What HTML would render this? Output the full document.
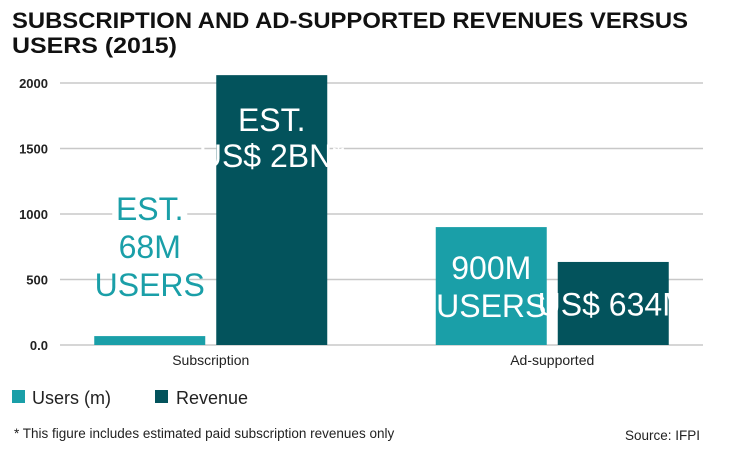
<!DOCTYPE html>
<html><head><meta charset="utf-8">
<style>
html,body{margin:0;padding:0;background:#fff;}
svg{display:block;font-family:"Liberation Sans",sans-serif;}
.cond{font-family:"Liberation Sans Narrow","Liberation Sans",sans-serif;}
</style></head>
<body>
<svg id="chart" width="740" height="457" viewBox="0 0 740 457">
  <text x="12" y="28" font-size="22" font-weight="bold" fill="#111" textLength="676" lengthAdjust="spacingAndGlyphs">SUBSCRIPTION AND AD-SUPPORTED REVENUES VERSUS</text>
  <text x="12" y="53" font-size="22" font-weight="bold" fill="#111" textLength="165" lengthAdjust="spacingAndGlyphs">USERS (2015)</text>
  <g id="grid"></g>
  <g id="bars"></g>
  <g id="labels"></g>
  <g>
    <rect x="12" y="390" width="13" height="13" fill="#1a9fa8"/>
    <text x="32" y="404" font-size="18" fill="#222">Users (m)</text>
    <rect x="155" y="390" width="13" height="13" fill="#03535c"/>
    <text x="176" y="404" font-size="18" fill="#222">Revenue</text>
  </g>
  <text x="14" y="438" font-size="13.5" fill="#222">* This figure includes estimated paid subscription revenues only</text>
  <text x="700" y="440" font-size="13.5" fill="#222" text-anchor="end">Source: IFPI</text>
</svg>
<script>
const categories = ["Subscription", "Ad-supported"];
const usersValues = [68, 900];
const revenueValues = [2060, 634];
const yTicks = [0, 500, 1000, 1500, 2000];
const yTickLabels = ["0.0", "500", "1000", "1500", "2000"];
const barLabelsUsers = [["EST.", "68M", "USERS"], ["900M", "USERS"]];
const barLabelsRevenue = [["EST.", "US$ 2BN*"], ["US$ 634M"]];

const NS = "http://www.w3.org/2000/svg";
const plotL = 60, plotR = 703, y0 = 345, pxPer = 65.5 / 500;
const yScale = v => y0 - v * pxPer;
const groupW = (plotR - plotL) / categories.length;
const barW = 111, gap = 11;
const groupCenter = i => plotL + groupW * (i + 0.5) - 10 + i * 20;

function mk(tag, attrs, parent) {
  const e = document.createElementNS(NS, tag);
  for (const k in attrs) e.setAttribute(k, attrs[k]);
  parent.appendChild(e);
  return e;
}
const grid = document.getElementById("grid");
const bars = document.getElementById("bars");
const labels = document.getElementById("labels");

yTicks.forEach((t, i) => {
  const y = yScale(t);
  const l = mk("line", {x1: plotL, x2: plotR, y1: y, y2: y, stroke: "#c8c8c8", "stroke-width": 1.5}, grid);
  
  
  const tx = mk("text", {x: 48, y: y + 5, "font-size": 13, "font-weight": "bold", fill: "#222", "text-anchor": "end"}, grid);
  tx.textContent = yTickLabels[i];
  
  
});

categories.forEach((c, i) => {
  const cx = groupCenter(i);
  const ux = cx - gap / 2 - barW, rx = cx + gap / 2;
  const ub = mk("rect", {x: ux, y: yScale(usersValues[i]), width: barW, height: y0 - yScale(usersValues[i]), fill: "#1a9fa8"}, bars);
  
  
  const rb = mk("rect", {x: rx, y: yScale(revenueValues[i]), width: barW, height: y0 - yScale(revenueValues[i]), fill: "#03535c"}, bars);
  
  
  const cl = mk("text", {x: cx, y: 365, "font-size": 14, fill: "#222", "text-anchor": "middle"}, labels);
  cl.textContent = c;
  
  

  // users label
  const uLines = barLabelsUsers[i];
  const uTall = usersValues[i] * pxPer > uLines.length * 40;
  let uStart = uTall ? (yScale(usersValues[i]) + (y0 - yScale(usersValues[i])) / 2 - (uLines.length - 1) * 19 + 12) : 220;
  uLines.forEach((s, k) => {
    const yy = uStart + k * 38;
    if (!uTall) {
      const bg = mk("rect", {x: ux + 18, y: yy - 30, width: barW - 36, height: 38, fill: "#fff"}, labels);
      
      
    }
    const t = mk("text", {x: ux + barW / 2, y: yy, "font-size": 32, fill: uTall ? "#fff" : "#1a9fa8", "text-anchor": "middle", class: "cond"}, labels);
    t.textContent = s;
    
    
  });
  // revenue label
  const rLines = barLabelsRevenue[i];
  const rTop = yScale(revenueValues[i]);
  const rStart = rLines.length > 1 ? rTop + 56 : rTop + (y0 - rTop) / 2 + 12;
  rLines.forEach((s, k) => {
    const t = mk("text", {x: rx + barW / 2, y: rStart + k * 36, "font-size": 32, fill: "#fff", "text-anchor": "middle", class: "cond"}, labels);
    t.textContent = s;
    
    
  });
});
</script>
</body></html>
